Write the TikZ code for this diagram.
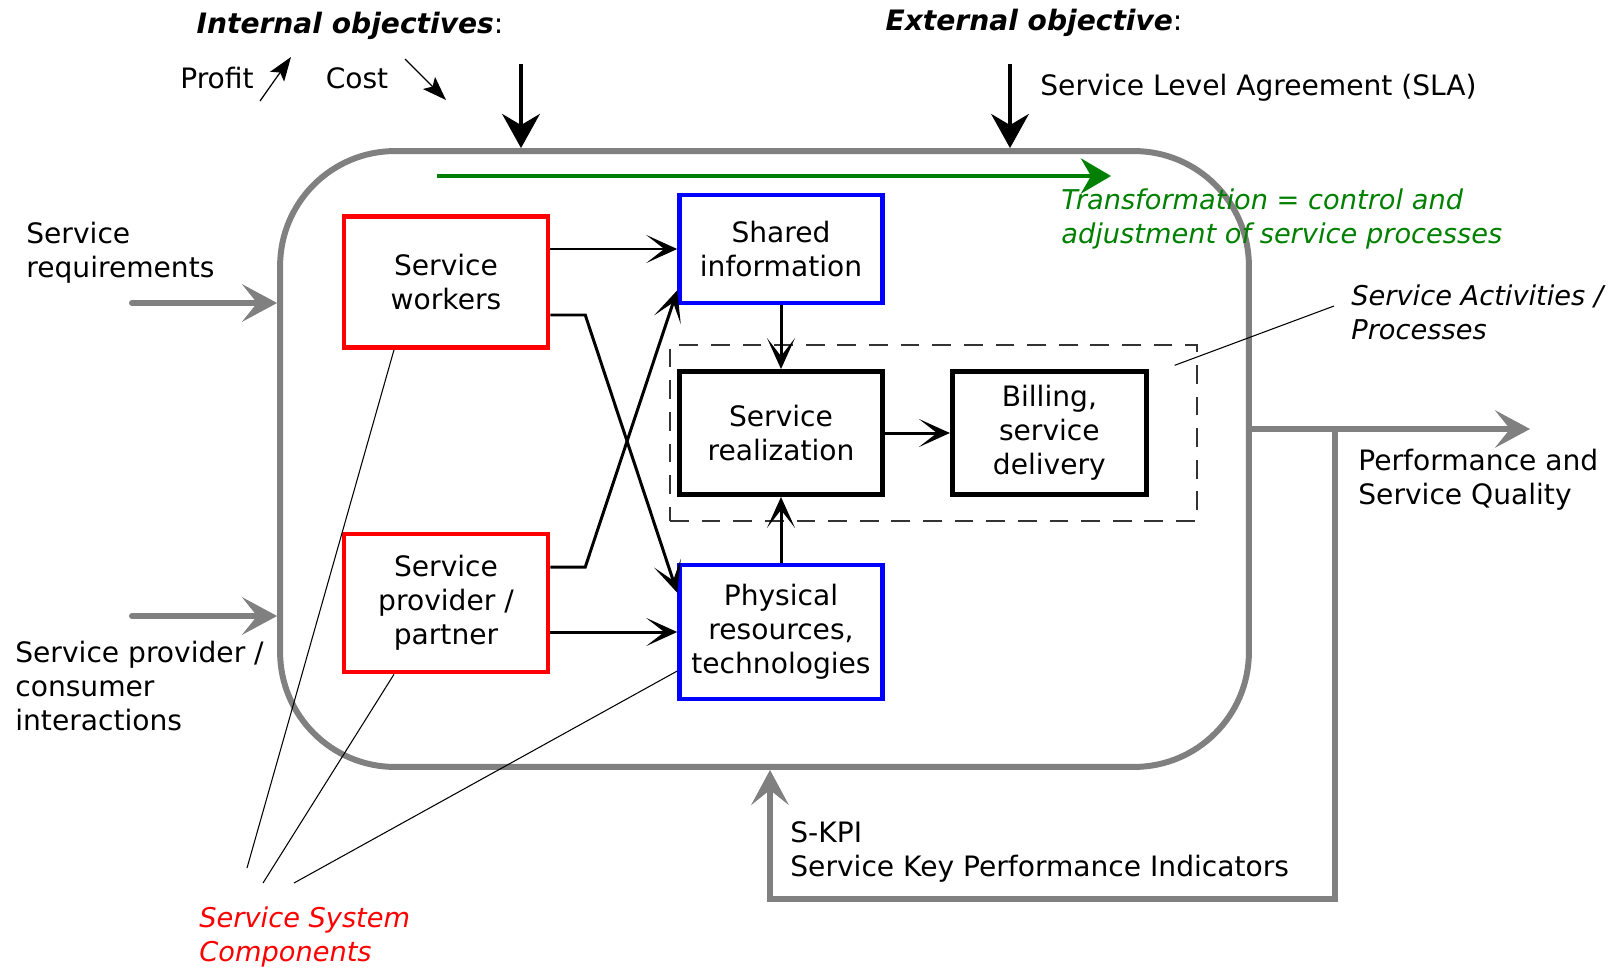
\documentclass[tikz,border=0pt]{standalone}
\usepackage{fontspec}
\setmainfont{DejaVu Sans}
\usepackage{tikz}
\usetikzlibrary{positioning, arrows.meta}
\newcommand{\labelsize}{\fontsize{16}{19.3}\selectfont}
\newcommand{\notesize}{\fontsize{15.5}{19.3}\selectfont}
\tikzset{
every node/.style={font=\labelsize, align=center, inner sep=0pt}, % plain text everywhere
sysbox/.style={draw=gray, line width=3.4pt, rounded corners=2.3cm}, % the service system
procbox/.style={draw=black!80, line width=0.8pt, dash pattern=on 10.7pt off 7.3pt}, % activities / processes
redbox/.style={draw=red, line width=2.6pt}, % service system components
bluebox/.style={draw=blue, line width=2.6pt}, % shared resources
blackbox/.style={draw=black, line width=2.8pt}, % service processes
note/.style={anchor=west, align=left}, % free labels
flow/.style={->, line width=1.7pt, >={Stealth[length=0.62cm, width=0.56cm, inset=0.36cm]}},
objarrow/.style={->, line width=2.8pt, >={Stealth[length=0.68cm, width=0.75cm, inset=0.22cm]}},
grayarrow/.style={->, draw=gray, line width=3.4pt, line cap=round, >={Stealth[length=0.7cm, width=0.75cm, inset=0.3cm]}},
greenarrow/.style={->, draw=green!50!black, line width=2.8pt, >={Stealth[length=0.6cm, width=0.7cm, inset=0.2cm]}},
trend/.style={->, line width=0.7pt, >={Stealth[length=0.48cm, width=0.34cm, inset=0.1cm]}}, % profit up, cost down
pointer/.style={line width=0.6pt}, % thin callout lines
}

\begin{document}
\begin{tikzpicture}[x=0.02cm, y=-0.02cm]
    \useasboundingbox (0,0) rectangle (1615,967);
    % system and process frames
    \node[sysbox, minimum width=19.38cm, minimum height=12.32cm] (sys) at (764.5,459) {};
    \node[procbox, minimum width=10.54cm, minimum height=3.52cm] (proc) at (933.5,433) {};
    % components
    \node[redbox, minimum width=4.08cm, minimum height=2.62cm] (sw) at (446,282) {Service\\workers};
    \node[redbox, minimum width=4.08cm, minimum height=2.76cm] (sp) at (446,603) {Service\\provider /\\partner};
    \node[bluebox, minimum width=4.06cm, minimum height=2.16cm] (si) at (781,249) {Shared\\information};
    \node[bluebox, minimum width=4.06cm, minimum height=2.68cm] (pr) at (781,632) {Physical\\resources,\\technologies};
    \node[blackbox, minimum width=4.06cm, minimum height=2.46cm] (sr) at (781,433) {Service\\realization};
    \node[blackbox, minimum width=3.88cm, minimum height=2.46cm, right=1.3cm of sr] (bd) {Billing,\\service\\delivery};
    % labels
    \node (intobj) at (350,26) {\textbf{\textit{Internal objectives}}:};
    \node (profit) at (217,78) {Profit};
    \node (cost) at (357,78) {Cost};
    \node (extobj) at (1034,23) {\textbf{\textit{External objective}}:};
    \node[note] (sla) at (1040,88) {Service Level Agreement (SLA)};
    \node[note, text=green!50!black, font=\notesize\itshape] (transf) at (1061,219) {Transformation = control and\\adjustment of service processes};
    \node[note] (req) at (26,253) {Service\\requirements};
    \node[note] (inter) at (15,686) {Service provider /\\consumer\\interactions};
    \node[note, font=\notesize\itshape] (act) at (1351,312) {Service Activities /\\Processes};
    \node[note] (perf) at (1358,480) {Performance and\\Service Quality};
    \node[note] (kpi) at (790,852) {S-KPI\\Service Key Performance Indicators};
    \node[note, text=red, font=\notesize\itshape] (ssc) at (199,937) {Service System\\Components};
    % free ends
    \coordinate (p0) at (260,101);
    \coordinate (p1) at (291,57);
    \coordinate (c0) at (405,59);
    \coordinate (c1) at (446,100);
    \coordinate (io) at (521,64);
    \coordinate (eo) at (1010,64);
    \coordinate (tr0) at (437,176);
    \coordinate (tr1) at (1111,176);
    \coordinate (in1) at (132,303);
    \coordinate (in2) at (132,616);
    \coordinate (out) at (1530,429);
    \coordinate (fb) at (1335,429);
    \coordinate (fb2) at (770,899);
    \coordinate (sa) at (1334,306);
    \coordinate (ssc1) at (247,868);
    \coordinate (ssc2) at (263,883);
    \coordinate (ssc3) at (294,883);
    % objectives and transformation
    \draw[trend] (p0) -- (p1);
    \draw[trend] (c0) -- (c1);
    \draw[objarrow] (io) -- (io |- sys.north);
    \draw[objarrow] (eo) -- (eo |- sys.north);
    \draw[greenarrow] (tr0) -- (tr1);
    % inputs, output and feedback
    \draw[grayarrow] (in1) -- (in1 -| sys.west);
    \draw[grayarrow] (in2) -- (in2 -| sys.west);
    \draw[grayarrow] (sys.east |- out) -- (out);
    \draw[grayarrow] (fb) |- (fb2) -- (fb2 |- sys.south);
    % flows between components
    \draw[flow] (sw.east |- si.west) -- (si.west);
    \draw[flow] ([yshift=-0.66cm]sw.east) -- ++(0.7cm,0) -- ([yshift=-0.6cm]pr.north west);
    \draw[flow] ([yshift=0.72cm]sp.east) -- ++(0.7cm,0) -- ([yshift=0.3cm]si.south west);
    \draw[flow] (sp.east |- pr.west) -- (pr.west);
    \draw[flow] (si) -- (sr);
    \draw[flow] (pr) -- (sr);
    \draw[flow] (sr) -- (bd);
    % callouts
    \draw[pointer] ([xshift=-0.46cm, yshift=-0.42cm]proc.north east) -- (sa);
    \draw[pointer] ([xshift=-1.04cm]sw.south) -- (ssc1);
    \draw[pointer] ([xshift=-1.04cm]sp.south) -- (ssc2);
    \draw[pointer] ([yshift=-0.78cm]pr.west) -- (ssc3);
\end{tikzpicture}
\end{document}
